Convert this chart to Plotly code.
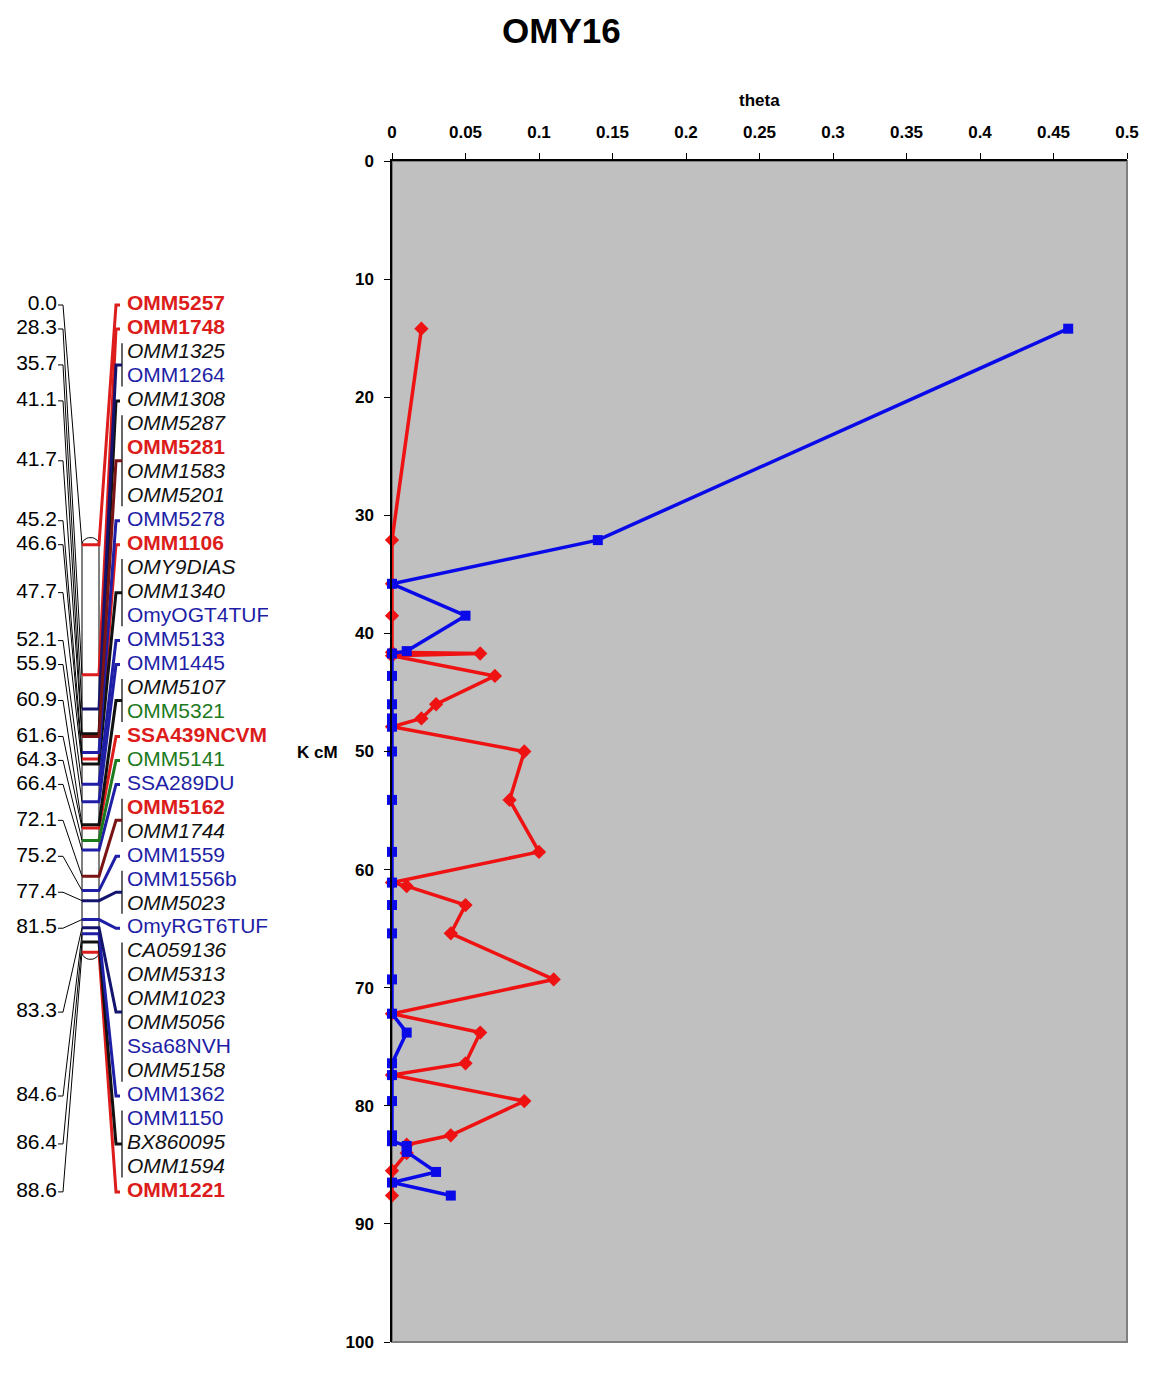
import numpy as np
import plotly.graph_objects as go

# ─────────────────────────────────────────────────────────────
# DATA
# ─────────────────────────────────────────────────────────────

# theta vs K cM (right panel)
red_theta = [0.02, 0, 0, 0, 0, 0.06, 0, 0.07, 0.03, 0.02, 0, 0.09, 0.08, 0.10,
             0, 0.01, 0.05, 0.04, 0.11, 0, 0.06, 0.05, 0, 0.09, 0.04, 0.01, 0.01, 0, 0]
red_cm = [14.2, 32.1, 35.8, 38.5, 41.6, 41.7, 41.9, 43.6, 46.0, 47.2, 47.9, 50.0, 54.1, 58.5,
          61.1, 61.4, 63.0, 65.4, 69.3, 72.2, 73.8, 76.4, 77.4, 79.6, 82.5, 83.3, 84.0, 85.5, 87.6]

blue_theta = [0.46, 0.14, 0, 0.05, 0.01, 0, 0, 0, 0, 0, 0, 0, 0, 0, 0, 0, 0, 0,
              0.01, 0, 0, 0, 0, 0, 0.01, 0.01, 0.03, 0, 0.04]
blue_cm = [14.2, 32.1, 35.8, 38.5, 41.5, 41.7, 43.6, 46.0, 47.2, 47.9, 50.0, 54.1, 58.5,
           61.1, 63.0, 65.4, 69.3, 72.2, 73.8, 76.4, 77.4, 79.6, 82.5, 83.0, 83.4, 83.9,
           85.6, 86.5, 87.6]

# linkage map (left panel)
map_positions = [0.0, 28.3, 35.7, 41.1, 41.7, 45.2, 46.6, 47.7, 52.1, 55.9, 60.9, 61.6,
                 64.3, 66.4, 72.1, 75.2, 77.4, 81.5, 83.3, 84.6, 86.4, 88.6]
map_markers = ["OMM5257", "OMM1748", "OMM1325", "OMM1264", "OMM1308", "OMM5287", "OMM5281",
               "OMM1583", "OMM5201", "OMM5278", "OMM1106", "OMY9DIAS", "OMM1340", "OmyOGT4TUF",
               "OMM5133", "OMM1445", "OMM5107", "OMM5321", "SSA439NCVM", "OMM5141", "SSA289DU",
               "OMM5162", "OMM1744", "OMM1559", "OMM1556b", "OMM5023", "OmyRGT6TUF", "CA059136",
               "OMM5313", "OMM1023", "OMM5056", "Ssa68NVH", "OMM5158", "OMM1362", "OMM1150",
               "BX860095", "OMM1594", "OMM1221"]
marker_pos_idx = [0, 1, 2, 2, 3, 4, 4, 4, 4, 5, 6, 7, 7, 7, 8, 9, 10, 10, 11, 12, 13,
                  14, 14, 15, 16, 16, 17, 18, 18, 18, 18, 18, 18, 19, 20, 20, 20, 21]
marker_kind = ["r", "r", "k", "b", "k", "k", "r", "k", "k", "b", "r", "k", "k", "b",
               "b", "b", "k", "g", "r", "g", "b", "r", "k", "b", "b", "k", "b", "k",
               "k", "k", "k", "b", "k", "b", "b", "k", "k", "r"]
pos_kind = ["r", "r", "n", "k", "m", "b", "r", "k", "b", "b", "k", "r",
            "g", "b", "m", "b", "n", "b", "n", "b", "k", "r"]

# ─────────────────────────────────────────────────────────────
# STYLE / GEOMETRY (screen pixels of the 1175x1387 page)
# ─────────────────────────────────────────────────────────────

OFF = 8                      # default page margin around the plot div
FW, FH = 1175 - 2 * OFF, 1387 - 2 * OFF
FONT = "Liberation Sans, Arial, sans-serif"
COLORS = {"r": "#DD1C1C", "k": "#111111", "b": "#1E1EA6", "g": "#1E7A1E",
          "n": "#14146E", "m": "#7A1414"}
PLOT_RED = "#EE1212"
PLOT_BLUE = "#0A0AE8"


def fx(px):
    return (px - OFF) / FW


def fy(py):
    return 1 - (py - OFF) / FH


# map geometry (x in screen pixels, y in label rows)
ROW_PX = 23.97
ROW0_PX = 305
BAR_TOP, BAR_BOT = 10.0, 27.0
BAR_L, BAR_R = 82, 99
MAP_CLIP = 268


def bar_row(cm):
    return BAR_TOP + cm * (BAR_BOT - BAR_TOP) / map_positions[-1]


fig = go.Figure()

# ── theta curves ─────────────────────────────────────────────
fig.add_trace(go.Scatter(
    x=red_theta, y=red_cm, mode="lines+markers",
    line=dict(color=PLOT_RED, width=3.5),
    marker=dict(symbol="diamond", size=11, color=PLOT_RED),
    cliponaxis=False, showlegend=False,
))
fig.add_trace(go.Scatter(
    x=blue_theta, y=blue_cm, mode="lines+markers",
    line=dict(color=PLOT_BLUE, width=3.5),
    marker=dict(symbol="square", size=10, color=PLOT_BLUE),
    cliponaxis=False, showlegend=False,
))

# ── linkage map ──────────────────────────────────────────────
pos_rows = {}
for i, p in enumerate(marker_pos_idx):
    pos_rows.setdefault(p, []).append(i)

left_x, left_y = [], []
colored = {k: ([], []) for k in COLORS}
bracket_x, bracket_y = [], []
for p, cm in enumerate(map_positions):
    rows = pos_rows[p]
    mid = float(np.mean(rows))
    by = bar_row(cm)
    # thin line from the position label to the bar
    left_x += [58, 63, BAR_L, None]
    left_y += [mid, mid, by, None]
    # coloured tick across the bar and connector to the marker names
    cx, cy = colored[pos_kind[p]]
    end = 120 if len(rows) == 1 else 122
    cx += [BAR_L, BAR_R, 116, end, None]
    cy += [by, by, mid, mid, None]
    if len(rows) > 1:
        bracket_x += [122, 122, None]
        bracket_y += [rows[0] - 0.4, rows[-1] + 0.4, None]

# chromosome outline with rounded ends
ang = np.linspace(np.pi, 0, 15)
cap_x = (BAR_L + BAR_R) / 2 + (BAR_R - BAR_L) / 2 * np.cos(ang)
cap_h = 0.3
bar_x = list(cap_x) + list(cap_x[::-1])
bar_y = list(BAR_TOP - cap_h * np.sin(ang)) + list(BAR_BOT + cap_h * np.sin(ang[::-1]))
bar_x.append(bar_x[0])
bar_y.append(bar_y[0])
fig.add_trace(go.Scatter(
    x=bar_x, y=bar_y, mode="lines", fill="toself", fillcolor="white",
    line=dict(color="black", width=1), xaxis="x2", yaxis="y2",
    hoverinfo="skip", showlegend=False,
))
fig.add_trace(go.Scatter(
    x=left_x, y=left_y, mode="lines", line=dict(color="black", width=1),
    xaxis="x2", yaxis="y2", hoverinfo="skip", showlegend=False,
))
fig.add_trace(go.Scatter(
    x=bracket_x, y=bracket_y, mode="lines", line=dict(color="black", width=1.2),
    xaxis="x2", yaxis="y2", hoverinfo="skip", showlegend=False,
))
for k, (cx, cy) in colored.items():
    if cx:
        fig.add_trace(go.Scatter(
            x=cx, y=cy, mode="lines", line=dict(color=COLORS[k], width=3),
            xaxis="x2", yaxis="y2", hoverinfo="skip", showlegend=False,
        ))

# position labels
fig.add_trace(go.Scatter(
    x=[57] * len(map_positions),
    y=[float(np.mean(pos_rows[p])) for p in range(len(map_positions))],
    text=[f"{v:.1f}" for v in map_positions],
    mode="text", textposition="middle left",
    textfont=dict(family=FONT, size=21, color="black"),
    xaxis="x2", yaxis="y2", hoverinfo="skip", showlegend=False,
))

# marker names, one trace per style
styles = {"r": ("bold", "normal"), "k": ("normal", "italic"),
          "b": ("normal", "normal"), "g": ("normal", "normal")}
for k, (weight, style) in styles.items():
    idx = [i for i, m in enumerate(marker_kind) if m == k]
    fig.add_trace(go.Scatter(
        x=[127] * len(idx), y=idx, text=[map_markers[i] for i in idx],
        mode="text", textposition="middle right", cliponaxis=True,
        textfont=dict(family=FONT, size=21, color=COLORS[k], weight=weight, style=style),
        xaxis="x2", yaxis="y2", hoverinfo="skip", showlegend=False,
    ))

# ─────────────────────────────────────────────────────────────
# LAYOUT
# ─────────────────────────────────────────────────────────────

tickfont = dict(family=FONT, size=17, color="black", weight="bold")
ann_font = dict(family=FONT, size=17, color="black", weight="bold")

fig.update_layout(
    width=FW, height=FH,
    margin=dict(l=0, r=0, t=0, b=0, pad=0),
    paper_bgcolor="white",
    plot_bgcolor="white",
    xaxis=dict(
        domain=[fx(392), fx(1127)], range=[0, 0.5], dtick=0.05, side="top",
        ticks="outside", ticklen=6, tickcolor="black", tickfont=tickfont,
        ticklabelstandoff=8,
        showline=True, linecolor="black", linewidth=1.5,
        showgrid=False, zeroline=False, automargin=False, anchor="y",
    ),
    yaxis=dict(
        domain=[fy(1342), fy(161)], range=[100, 0], dtick=10,
        ticks="outside", ticklen=6, tickcolor="black", tickfont=tickfont,
        ticklabelstandoff=7,
        showline=True, linecolor="black", linewidth=1.5,
        showgrid=False, zeroline=False, automargin=False, anchor="x",
    ),
    xaxis2=dict(
        domain=[0, fx(MAP_CLIP)], range=[OFF, MAP_CLIP], visible=False,
        fixedrange=True, anchor="y2",
    ),
    yaxis2=dict(
        domain=[0, 1],
        range=[(OFF + FH - ROW0_PX) / ROW_PX, (OFF - ROW0_PX) / ROW_PX],
        visible=False, fixedrange=True, anchor="x2",
    ),
    shapes=[dict(
        type="rect", xref="x domain", yref="y domain", x0=0, x1=1, y0=0, y1=1,
        fillcolor="#C0C0C0", line=dict(color="#808080", width=2), layer="below",
    )],
    annotations=[
        dict(text="OMY16", x=fx(561), y=fy(30), xref="paper", yref="paper",
             xanchor="center", yanchor="middle", showarrow=False,
             font=dict(family=FONT, size=35, color="black", weight="bold")),
        dict(text="theta", x=fx(759), y=fy(100), xref="paper", yref="paper",
             xanchor="center", yanchor="middle", showarrow=False, font=ann_font),
        dict(text="K cM", x=fx(317), y=fy(752), xref="paper", yref="paper",
             xanchor="center", yanchor="middle", showarrow=False, font=ann_font),
    ],
)

fig.write_html("out.html")
